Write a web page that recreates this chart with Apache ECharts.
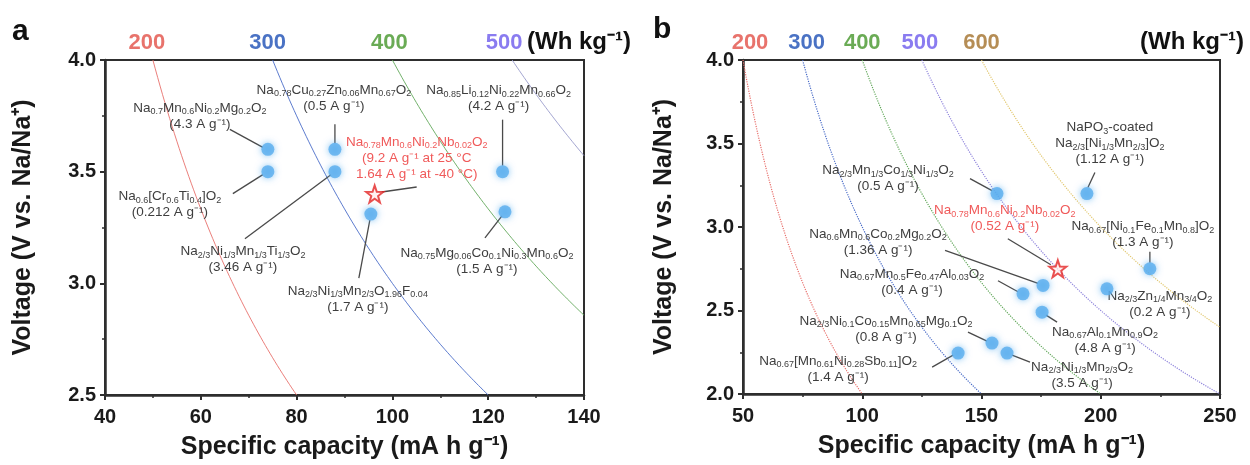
<!DOCTYPE html>
<html>
<head>
<meta charset="utf-8">
<script src="https://cdn.jsdelivr.net/npm/echarts@6/dist/echarts.min.js"></script>
<style>
  html, body { margin: 0; padding: 0; background: #fff; }
  #chart { width: 1250px; height: 465px; }
</style>
</head>
<body>
<div id="chart"></div>
<script>
// ---------- data ----------
// energy-density guide levels (Wh kg-1)
const energyA = [200, 300, 400, 500];
const energyB = [200, 300, 400, 500, 600];

// panel a: rate-capability comparison, capacity (mA h g-1) vs average voltage (V)
const capA  = [74, 74, 88, 88, 95.5, 123, 123.5];
const voltA = [3.6, 3.5, 3.6, 3.5, 3.31, 3.5, 3.32];
const formulaA = [
  'Na_{0.7}Mn_{0.6}Ni_{0.2}Mg_{0.2}O_{2}',
  'Na_{0.6}[Cr_{0.6}Ti_{0.4}]O_{2}',
  'Na_{0.78}Cu_{0.27}Zn_{0.06}Mn_{0.67}O_{2}',
  'Na_{2/3}Ni_{1/3}Mn_{1/3}Ti_{1/3}O_{2}',
  'Na_{2/3}Ni_{1/3}Mn_{2/3}O_{1.96}F_{0.04}',
  'Na_{0.85}Li_{0.12}Ni_{0.22}Mn_{0.66}O_{2}',
  'Na_{0.75}Mg_{0.06}Co_{0.1}Ni_{0.3}Mn_{0.6}O_{2}'
];
const rateA = ['4.3', '0.212', '0.5', '3.46', '1.7', '4.2', '1.5'];
const starCapA = [96.3];
const starVoltA = [3.4];

// panel b: low-temperature comparison
const capB  = [194.2, 156.5, 220.6, 202.6, 175.8, 167.4, 175.4, 154.4, 160.7, 140.2];
const voltB = [3.2, 3.2, 2.75, 2.63, 2.65, 2.6, 2.49, 2.305, 2.245, 2.245];
const formulaB = [
  'NaPO_{3}-coated\nNa_{2/3}[Ni_{1/3}Mn_{2/3}]O_{2}',
  'Na_{2/3}Mn_{1/3}Co_{1/3}Ni_{1/3}O_{2}',
  'Na_{0.67}[Ni_{0.1}Fe_{0.1}Mn_{0.8}]O_{2}',
  'Na_{2/3}Zn_{1/4}Mn_{3/4}O_{2}',
  'Na_{0.6}Mn_{0.6}Co_{0.2}Mg_{0.2}O_{2}',
  'Na_{0.67}Mn_{0.5}Fe_{0.47}Al_{0.03}O_{2}',
  'Na_{0.67}Al_{0.1}Mn_{0.9}O_{2}',
  'Na_{2/3}Ni_{0.1}Co_{0.15}Mn_{0.65}Mg_{0.1}O_{2}',
  'Na_{2/3}Ni_{1/3}Mn_{2/3}O_{2}',
  'Na_{0.67}[Mn_{0.61}Ni_{0.28}Sb_{0.11}]O_{2}'
];
const rateB = ['1.12', '0.5', '1.3', '0.2', '1.36', '0.4', '4.8', '0.8', '3.5', '1.4'];
const starCapB = [182];
const starVoltB = [2.75];

const starFormula = 'Na_{0.78}Mn_{0.6}Ni_{0.2}Nb_{0.02}O_{2}';
const starNoteA = ['(9.2 A g⁻¹ at 25 °C', '1.64 A g⁻¹ at -40 °C)'];
const starNoteB = ['(0.52 A g⁻¹)'];

// ---------- label placement (pixel offsets from each marker) ----------
// at: text-block centre; lead: [x1, y1, x2, y2] of the leader line
const layoutA = [
  { at: [-68, -33], lead: [-38, -20, -5, -2] },
  { at: [-98, 33],  lead: [-35, 22, -5, 3] },
  { at: [-1, -51],  lead: [0, -25, 0, -6] },
  { at: [-92, 88],  lead: [-90, 67, -4, 3] },
  { at: [-13, 85],  lead: [-12, 64, -1, 6] },
  { at: [-4, -73],  lead: [0, -52, 0, -6] },
  { at: [-18, 49],  lead: [-20, 26, -3, 4] }
];
const starLayoutA = { at: [42, -36], lead: [7, -2, 42, -7] };
const layoutB = [
  { at: [23, -50],   lead: [8, -21, 1, -6] },
  { at: [-109, -15], lead: [-27, -15, -5, -3] },
  { at: [-7, -34],   lead: [0, -17, 0, -6] },
  { at: [53, 15],    lead: null },
  { at: [-165, -43], lead: [-98, -35, -5, -2] },
  { at: [-111, -12], lead: [-25, -13, -5, -2] },
  { at: [63, 28],    lead: [4, 3, 15, 10] },
  { at: [-106, -14], lead: [-24, -11, -5, -2] },
  { at: [75, 22],    lead: [5, 2, 23, 9] },
  { at: [-120, 16],  lead: [-26, 14, -5, 2] }
];
const starLayoutB = { at: [-53, -50], lead: [-50, -30, -7, -4] };

// ---------- styles ----------
const FONT = '"Liberation Sans", Arial, Helvetica, sans-serif';
const energyColorA = { 200: '#e8706c', 300: '#4a6cc8', 400: '#62a85a', 500: '#9a9ccc' };
const energyColorB = { 200: '#e8706c', 300: '#4a6cc8', 400: '#62a85a', 500: '#8f84dc', 600: '#e2c870' };
const tagColor    = { 200: '#e8736c', 300: '#4a72c4', 400: '#6aab55', 500: '#8a7cf0', 600: '#b58d55' };
const TEXT_GRAY = '#3e3e3e';
const RED = '#f05a5a';

const rich = {
  m: { fontSize: 13.5, fontFamily: FONT, lineHeight: 16 },
  s: { fontSize: 9, fontFamily: FONT, lineHeight: 9, verticalAlign: 'bottom' }
};

// "Na_{0.7}Mn..." -> rich-text tokens with subscripts
function chem(str) {
  return str.split('\n').map(function (line) {
    let out = '';
    const re = /_\{([^}]*)\}/g;
    let last = 0, m;
    while ((m = re.exec(line)) !== null) {
      if (m.index > last) out += '{m|' + line.slice(last, m.index) + '}';
      out += '{s|' + m[1] + '}';
      last = re.lastIndex;
    }
    if (last < line.length) out += '{m|' + line.slice(last) + '}';
    return out;
  }).join('\n');
}

function rateLine(r) { return '{m|(' + r + ' A g⁻¹)}'; }

// constant-energy guide: V = E / Q across the plotted voltage window
function isoLine(E, qMin, qMax, vMin, vMax) {
  const pts = [];
  const q0 = Math.max(qMin, E / vMax);
  const q1 = Math.min(qMax, E / vMin);
  for (let q = q0; q <= q1 + 1e-9; q += 0.5) pts.push([q, E / q]);
  return pts;
}

function guideSeries(levels, xi, range, colors, dash, width) {
  return levels.map(function (E) {
    return {
      type: 'line', xAxisIndex: xi, yAxisIndex: xi, silent: true, showSymbol: false,
      data: isoLine(E, range[0], range[1], range[2], range[3]),
      lineStyle: { color: colors[E], width: width, type: dash }, z: 1
    };
  });
}

function tagSeries(levels, xi, yTop, shifts) {
  return {
    type: 'custom', xAxisIndex: xi, yAxisIndex: xi, silent: true, clip: false,
    data: levels.map(function (E) { return [E]; }),
    renderItem: function (params, api) {
      const E = api.value(0);
      const p = api.coord([E / yTop, yTop]);
      return {
        type: 'text',
        style: {
          text: String(E), x: p[0] + shifts[params.dataIndex], y: p[1] - 17,
          align: 'center', verticalAlign: 'middle',
          fill: tagColor[E], font: 'bold 22px ' + FONT
        }
      };
    }, z: 5
  };
}

function noteSeries(xs, ys, texts, layouts, color, xi) {
  return {
    type: 'custom', xAxisIndex: xi, yAxisIndex: xi, silent: true, clip: false,
    data: xs.map(function (x, i) { return [x, ys[i]]; }),
    renderItem: function (params, api) {
      const L = layouts[params.dataIndex];
      const p = api.coord([api.value(0), api.value(1)]);
      const kids = [];
      if (L.lead) {
        kids.push({
          type: 'line',
          shape: { x1: p[0] + L.lead[0], y1: p[1] + L.lead[1], x2: p[0] + L.lead[2], y2: p[1] + L.lead[3] },
          style: { stroke: '#4a4a4a', lineWidth: 1.3 }
        });
      }
      kids.push({
        type: 'text',
        style: {
          text: texts[params.dataIndex], rich: rich,
          x: p[0] + L.at[0], y: p[1] + L.at[1],
          align: 'center', verticalAlign: 'middle',
          fill: color, font: '13.5px ' + FONT
        }
      });
      return { type: 'group', children: kids };
    }, z: 4
  };
}

function pointSeries(xs, ys, xi) {
  return {
    type: 'scatter', xAxisIndex: xi, yAxisIndex: xi, silent: true,
    data: xs.map(function (x, i) { return [x, ys[i]]; }),
    symbol: 'circle', symbolSize: 13,
    itemStyle: { color: '#58acee', shadowBlur: 7, shadowColor: 'rgba(90,175,240,0.9)' },
    z: 6
  };
}

const STAR = 'path://M50,2 L61.8,36.2 L97.6,36.9 L69.1,58.6 L79.4,93.1 L50,72.5 L20.6,93.1 L30.9,58.6 L2.4,36.9 L38.2,36.2 Z';
function starSeries(xs, ys, xi) {
  return {
    type: 'scatter', xAxisIndex: xi, yAxisIndex: xi, silent: true,
    data: xs.map(function (x, i) { return [x, ys[i]]; }),
    symbol: STAR, symbolSize: 17,
    itemStyle: { color: 'rgba(255,235,235,0.9)', borderColor: '#e42626', borderWidth: 2 },
    z: 7
  };
}

// ---------- annotation texts ----------
const textsA = formulaA.map(function (f, i) { return chem(f) + '\n' + rateLine(rateA[i]); });
const starTextA = [chem(starFormula) + '\n{m|' + starNoteA[0] + '}\n{m|' + starNoteA[1] + '}'];
const textsB = formulaB.map(function (f, i) { return chem(f) + '\n' + rateLine(rateB[i]); });
const starTextB = [chem(starFormula) + '\n{m|' + starNoteB[0] + '}'];

// ---------- axes ----------
function xAxisCfg(gi, min, max, step) {
  return {
    gridIndex: gi, type: 'value', min: min, max: max, interval: step,
    name: 'Specific capacity (mA h g⁻¹)', nameLocation: 'middle', nameGap: 40,
    nameTextStyle: { fontFamily: FONT, fontWeight: 'bold', fontSize: 25, color: '#1a1a1a' },
    axisLine: { show: true, lineStyle: { color: '#2e2e2e', width: 2.5 } },
    axisTick: { show: true, length: 5, lineStyle: { color: '#2e2e2e', width: 2 } },
    minorTick: { show: true, splitNumber: 2, length: 3, lineStyle: { color: '#2e2e2e', width: 1.5 } },
    axisLabel: { fontFamily: FONT, fontWeight: 'bold', fontSize: 20, color: '#1a1a1a', margin: 12 },
    splitLine: { show: false }
  };
}
function yAxisCfg(gi, min, max, gap) {
  return {
    gridIndex: gi, type: 'value', min: min, max: max, interval: 0.5,
    name: 'Voltage (V vs. Na/Na⁺)', nameLocation: 'middle', nameGap: gap, nameRotate: 90,
    nameTextStyle: { fontFamily: FONT, fontWeight: 'bold', fontSize: 25, color: '#1a1a1a' },
    axisLine: { show: true, lineStyle: { color: '#2e2e2e', width: 2.5 } },
    axisTick: { show: true, length: 5, lineStyle: { color: '#2e2e2e', width: 2 } },
    minorTick: { show: true, splitNumber: 2, length: 3, lineStyle: { color: '#2e2e2e', width: 1.5 } },
    axisLabel: {
      fontFamily: FONT, fontWeight: 'bold', fontSize: 20, color: '#1a1a1a', margin: 9,
      formatter: function (v) { return v.toFixed(1); }
    },
    splitLine: { show: false }
  };
}

const chart = echarts.init(document.getElementById('chart'), null, { renderer: 'canvas' });
chart.setOption({
  animation: false,
  backgroundColor: '#ffffff',
  grid: [
    { left: 105, top: 60, width: 479, height: 335, show: true, borderColor: '#2e2e2e', borderWidth: 2 },
    { left: 743, top: 60, width: 477, height: 334, show: true, borderColor: '#2e2e2e', borderWidth: 2 }
  ],
  xAxis: [xAxisCfg(0, 40, 140, 20), xAxisCfg(1, 50, 250, 50)],
  yAxis: [yAxisCfg(0, 2.5, 4.0, 69), yAxisCfg(1, 2.0, 4.0, 66)],
  graphic: [
    { type: 'text', left: 12, top: 17, style: { text: 'a', font: 'bold 30px ' + FONT, fill: '#111' } },
    { type: 'text', left: 653, top: 15, style: { text: 'b', font: 'bold 30px ' + FONT, fill: '#111' } },
    { type: 'text', left: 527, top: 30, style: { text: '(Wh kg⁻¹)', font: 'bold 24px ' + FONT, fill: '#111' } },
    { type: 'text', left: 1140, top: 30, style: { text: '(Wh kg⁻¹)', font: 'bold 24px ' + FONT, fill: '#111' } }
  ],
  series: [].concat(
    guideSeries(energyA, 0, [40, 140, 2.5, 4.0], energyColorA, 'solid', 0.9),
    guideSeries(energyB, 1, [50, 250, 2.0, 4.0], energyColorB, 'dotted', 1.2),
    [
      tagSeries(energyA, 0, 4.0, [-6, -5, -3, -8]),
      tagSeries(energyB, 1, 4.0, [7, 4, 0, -2, 0]),
      noteSeries(capA, voltA, textsA, layoutA, TEXT_GRAY, 0),
      noteSeries(starCapA, starVoltA, starTextA, [starLayoutA], RED, 0),
      noteSeries(capB, voltB, textsB, layoutB, TEXT_GRAY, 1),
      noteSeries(starCapB, starVoltB, starTextB, [starLayoutB], RED, 1),
      pointSeries(capA, voltA, 0),
      pointSeries(capB, voltB, 1),
      starSeries(starCapA, starVoltA, 0),
      starSeries(starCapB, starVoltB, 1)
    ]
  )
});
</script>
</body>
</html>
